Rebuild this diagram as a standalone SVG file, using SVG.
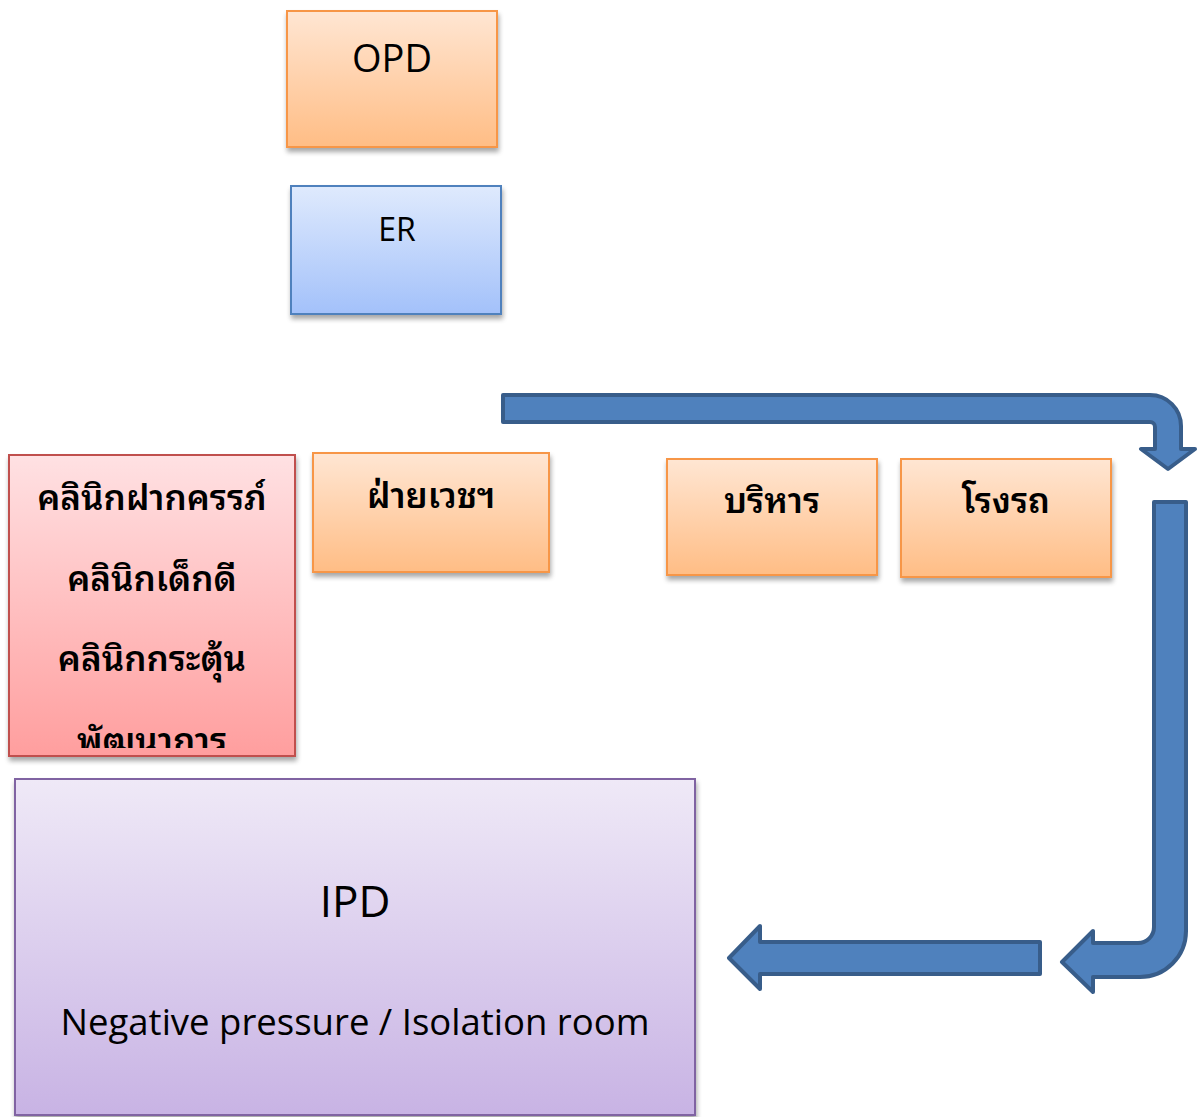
<svg xmlns="http://www.w3.org/2000/svg" width="1200" height="1117" viewBox="0 0 1200 1117">
  <defs>
    <linearGradient id="gOrange" x1="0" y1="0" x2="0" y2="1">
      <stop offset="0" stop-color="#FFE6D3"/>
      <stop offset="1" stop-color="#FFBD85"/>
    </linearGradient>
    <linearGradient id="gBlue" x1="0" y1="0" x2="0" y2="1">
      <stop offset="0" stop-color="#DFEAFD"/>
      <stop offset="1" stop-color="#A3C1FA"/>
    </linearGradient>
    <linearGradient id="gRed" x1="0" y1="0" x2="0" y2="1">
      <stop offset="0" stop-color="#FFE1E3"/>
      <stop offset="1" stop-color="#FF9E9E"/>
    </linearGradient>
    <linearGradient id="gPurple" x1="0" y1="0" x2="0" y2="1">
      <stop offset="0" stop-color="#EFE9F7"/>
      <stop offset="1" stop-color="#C8B3E4"/>
    </linearGradient>
    <filter id="shadow" x="-10%" y="-10%" width="130%" height="130%">
      <feGaussianBlur in="SourceAlpha" stdDeviation="2.5"/>
      <feOffset dx="1" dy="4"/>
      <feComponentTransfer><feFuncA type="linear" slope="0.35"/></feComponentTransfer>
      <feMerge><feMergeNode/><feMergeNode in="SourceGraphic"/></feMerge>
    </filter>
    <clipPath id="clinicClip"><rect x="10" y="456" width="284" height="292"/></clipPath>
  </defs>
  <style>
    .box { stroke-width: 2; filter: url(#shadow); }
    .orange { fill: url(#gOrange); stroke: #F79646; }
    .blue { fill: url(#gBlue); stroke: #4F81BD; }
    .red { fill: url(#gRed); stroke: #C0504D; }
    .purple { fill: url(#gPurple); stroke: #8064A2; }
    .lbl { font-family: "Open Sans", "Noto Sans", "DejaVu Sans", sans-serif; fill: #000; text-anchor: middle; }
    .th { font-family: "Noto Sans Thai Looped", "Noto Serif Thai", "Loma", "Garuda", "Noto Sans Thai", "DejaVu Sans", sans-serif; font-weight: 600; fill: #000; text-anchor: middle; font-size: 35px; }
    .arrow { fill: #4F81BD; stroke: #385D8A; stroke-width: 4; stroke-linejoin: round; }
  </style>
  <rect width="1200" height="1117" fill="#FFFFFF"/>

  <g id="opd">
    <rect class="box orange" x="287" y="11" width="210" height="136"/>
    <text class="lbl" x="392" y="72" font-size="38">OPD</text>
  </g>

  <g id="er">
    <rect class="box blue" x="291" y="186" width="210" height="128"/>
    <text class="lbl" x="397" y="241" font-size="32">ER</text>
  </g>

  <g id="clinics">
    <rect class="box red" x="9" y="455" width="286" height="301"/>
    <g clip-path="url(#clinicClip)">
      <text class="th" x="152" y="510">คลินิกฝากครรภ์</text>
      <text class="th" x="152" y="591">คลินิกเด็กดี</text>
      <text class="th" x="152" y="671">คลินิกกระตุ้น</text>
      <text class="th" x="152" y="753">พัฒนาการ</text>
    </g>
  </g>

  <g id="medical">
    <rect class="box orange" x="313" y="453" width="236" height="119"/>
    <text class="th" x="431" y="508">ฝ่ายเวชฯ</text>
  </g>

  <g id="admin">
    <rect class="box orange" x="667" y="459" width="210" height="116"/>
    <text class="th" x="772" y="513">บริหาร</text>
  </g>

  <g id="garage">
    <rect class="box orange" x="901" y="459" width="210" height="118"/>
    <text class="th" x="1006" y="513">โรงรถ</text>
  </g>

  <g id="ipd">
    <rect class="box purple" x="15" y="779" width="680" height="336"/>
    <text class="lbl" x="355" y="917" font-size="44">IPD</text>
    <text class="lbl" x="355" y="1035" font-size="36.5">Negative pressure / Isolation room</text>
  </g>

  <g id="connectors">
    <!-- bent arrow along the top, turning down -->
    <path class="arrow" d="M503,395 L1150,395 A31,31 0 0 1 1181,426 L1181,449 L1195,449 L1168,469 L1141,449 L1155,449 L1155,427 A5,5 0 0 0 1150,422 L503,422 Z"/>
    <!-- bent arrow down the right side, turning left -->
    <path class="arrow" d="M1154,502 L1186,502 L1186,931 A46,46 0 0 1 1140,977 L1093,977 L1093,992 L1062,962 L1093,931 L1093,943 L1138,943 A16,16 0 0 0 1154,927 Z"/>
    <!-- straight arrow pointing to IPD -->
    <path class="arrow" d="M1040,942 L1040,974 L760,974 L760,989 L729,958 L760,926 L760,942 Z"/>
  </g>
</svg>
